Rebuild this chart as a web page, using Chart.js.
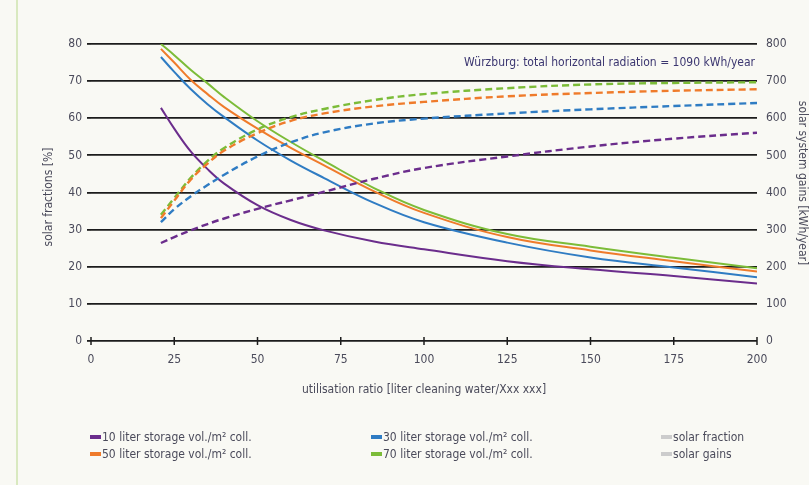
<!DOCTYPE html>
<html>
<head>
<meta charset="utf-8">
<script src="https://cdn.jsdelivr.net/npm/chart.js@4.4.1/dist/chart.umd.min.js"></script>
<style>
  html, body { margin: 0; padding: 0; background: #f9f9f4; }
  #wrap { position: relative; width: 809px; height: 485px; overflow: hidden; }
  #frame { position: absolute; left: 16px; top: 0; width: 2px; height: 485px; background: #d9e9c0; }
  canvas { position: absolute; left: 0; top: 0; }
  .legend { position: absolute; font: 12px "Liberation Sans Narrow", "DejaVu Sans Condensed", sans-serif; color: #4b4b5b; white-space: nowrap; }
  .legend i { display: inline-block; width: 11px; height: 4px; vertical-align: middle; margin-right: 1px; position: relative; top: -1px; }
</style>
</head>
<body>
<div id="wrap">
  <div id="frame"></div>
  <canvas id="solarChart" width="809" height="485"></canvas>
  <div id="legend"></div>
</div>
<script>
// utilisation ratio (x axis)
const ratios = [21, 25, 30, 35, 40, 50, 60, 70, 85, 100, 125, 150, 175, 200];

// solar fractions [%] (left axis)
const fraction10 = [62.8, 57.2, 51, 46.3, 42.4, 36.6, 32.6, 29.8, 26.8, 24.7, 21.5, 19.3, 17.5, 15.5];
const fraction30 = [76.5, 72.5, 67.8, 63.8, 60.3, 54, 48.6, 43.9, 37.2, 32, 26.5, 22.5, 19.8, 17.2];
const fraction50 = [78.7, 75, 70.3, 66.5, 63, 57.2, 52, 47.3, 40.3, 34.5, 28, 24.4, 21.5, 18.7];
const fraction70 = [80, 77, 73, 69.4, 65.7, 59.2, 53.6, 48.5, 41.2, 35.3, 28.8, 25.4, 22.4, 19.6];

// solar system gains [kWh/year] (right axis)
const gains10 = [264, 280, 298, 315, 330, 356, 379, 402, 437, 466, 497, 524, 545, 561];
const gains30 = [320, 355, 390, 420, 448, 497, 535, 562, 586, 599, 613, 624, 633, 641];
const gains50 = [331, 378, 435, 478, 513, 560, 593, 613, 632, 644, 659, 668, 674, 678];
const gains70 = [340, 385, 440, 485, 520, 570, 603, 625, 649, 665, 681, 691, 695, 697];

const xTicks = [0, 25, 50, 75, 100, 125, 150, 175, 200];
const storageLabels = ['10 liter storage vol./m² coll.', '30 liter storage vol./m² coll.',
                       '50 liter storage vol./m² coll.', '70 liter storage vol./m² coll.'];
const colors = ['#6b2d8c', '#2f7cc3', '#ef7b2b', '#7cbc38'];

const FONT = '"Liberation Sans Narrow", "DejaVu Sans Condensed", sans-serif';
const TEXT = '#4b4b5b';

function points(ys) {
    return ratios.map((x, i) => ({ x: x, y: ys[i] }));
}

const fractions = [fraction10, fraction30, fraction50, fraction70];
const gains = [gains10, gains30, gains50, gains70];
const datasets = [];
gains.forEach((g, i) => datasets.push({
    label: storageLabels[i] + ' gains', data: points(g), yAxisID: 'y1',
    borderColor: colors[i], borderWidth: 2.4, borderDash: [7, 4]
}));
fractions.forEach((f, i) => datasets.push({
    label: storageLabels[i], data: points(f), yAxisID: 'y',
    borderColor: colors[i], borderWidth: 2
}));

const decor = {
    id: 'decor',
    afterDraw(chart) {
        const ctx = chart.ctx;
        const xs = chart.scales.x;
        const bottom = chart.chartArea.bottom;
        ctx.save();
        ctx.strokeStyle = '#1c1c1c';
        ctx.lineWidth = 1.5;
        xTicks.forEach(v => {
            const px = xs.getPixelForValue(v);
            ctx.beginPath();
            ctx.moveTo(px, bottom - 4);
            ctx.lineTo(px, bottom + 4);
            ctx.stroke();
        });
        ctx.fillStyle = TEXT;
        ctx.font = '12px ' + FONT;
        ctx.textAlign = 'center';
        ctx.textBaseline = 'middle';
        ctx.fillText('utilisation ratio [liter cleaning water/Xxx xxx]', (chart.chartArea.left + chart.chartArea.right) / 2, 390);
        ctx.save();
        ctx.translate(49, 197);
        ctx.rotate(-Math.PI / 2);
        ctx.fillText('solar fractions [%]', 0, 0);
        ctx.restore();
        ctx.save();
        ctx.translate(802, 183);
        ctx.rotate(Math.PI / 2);
        ctx.fillText('solar system gains [kWh/year]', 0, 0);
        ctx.restore();
        ctx.fillStyle = '#3b3670';
        ctx.font = '12px ' + FONT;
        ctx.textAlign = 'right';
        ctx.fillText('Würzburg: total horizontal radiation = 1090 kWh/year', chart.chartArea.right - 2, 63);
        ctx.restore();
    }
};

Chart.defaults.font.family = FONT;
Chart.defaults.font.size = 12;
Chart.defaults.color = TEXT;

new Chart(document.getElementById('solarChart'), {
    type: 'line',
    data: { datasets: datasets },
    options: {
        responsive: false,
        animation: false,
        events: [],
        elements: {
            point: { radius: 0 },
            line: { tension: 0.4, fill: false }
        },
        layout: { padding: { left: 0, right: 12, top: 44, bottom: 114 } },
        plugins: { legend: { display: false }, tooltip: { enabled: false } },
        scales: {
            x: {
                type: 'linear', min: 0, max: 200,
                afterFit: s => { s.height = 30; },
                afterBuildTicks: s => { s.ticks = xTicks.map(v => ({ value: v })); },
                grid: { display: false, drawTicks: false },
                border: { display: false },
                ticks: { padding: 12, maxRotation: 0 }
            },
            y: {
                position: 'left', min: 0, max: 80,
                afterFit: s => { s.width = 91; },
                ticks: { stepSize: 10, padding: 5 },
                grid: { color: '#1c1c1c', lineWidth: 1.8, tickLength: 4 },
                border: { display: false }
            },
            y1: {
                position: 'right', min: 0, max: 800,
                afterFit: s => { s.width = 40; },
                ticks: { stepSize: 100, padding: 9 },
                grid: { drawOnChartArea: false, drawTicks: false },
                border: { display: false }
            }
        }
    },
    plugins: [decor]
});

// legend laid out in three columns like the original
const legendItems = [
    { text: storageLabels[0], color: colors[0], left: 90, top: 430 },
    { text: storageLabels[2], color: colors[2], left: 90, top: 447 },
    { text: storageLabels[1], color: colors[1], left: 371, top: 430 },
    { text: storageLabels[3], color: colors[3], left: 371, top: 447 },
    { text: 'solar fraction', color: '#cccccc', left: 661, top: 430 },
    { text: 'solar gains', color: '#cccccc', left: 661, top: 447 }
];
const legend = document.getElementById('legend');
legendItems.forEach(item => {
    const el = document.createElement('div');
    el.className = 'legend';
    el.style.left = item.left + 'px';
    el.style.top = item.top + 'px';
    el.innerHTML = '<i style="background:' + item.color + '"></i>' + item.text;
    legend.appendChild(el);
});
</script>
</body>
</html>
